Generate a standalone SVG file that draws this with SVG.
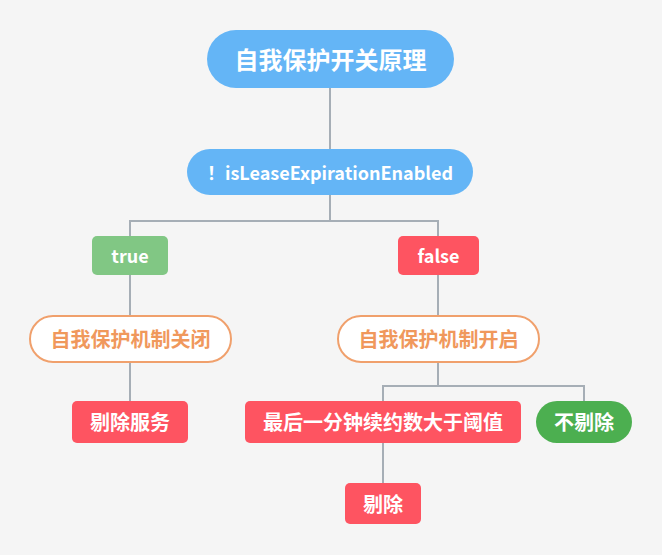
<svg xmlns="http://www.w3.org/2000/svg" width="662" height="555" viewBox="0 0 662 555">
<style>
.t{font-family:"Noto Sans CJK SC","Noto Sans",sans-serif;font-weight:bold;text-anchor:middle;dominant-baseline:central}
.w{fill:#ffffff}
.o{fill:#f0985c}
.blue{fill:#64b5f6}
.red{fill:#fe5461}
.lg{fill:#81c784}
.dg{fill:#4caf50}
.ol{fill:#ffffff;stroke:#f0a06c;stroke-width:2}
.c{fill:none;stroke:#a6aeb6;stroke-width:2}
</style>
<rect width="662" height="555" fill="#f5f5f5"/>
<g id="connectors">
<path class="c" d="M330 88V149"/>
<path class="c" d="M330 195V221M130 236V221H438V236"/>
<path class="c" d="M130 275V316"/>
<path class="c" d="M438 275V316"/>
<path class="c" d="M130 362V401"/>
<path class="c" d="M438 362V386M383 401V386H584V401"/>
<path class="c" d="M383 443V483"/>
</g>
<g id="root">
<rect class="blue" x="207" y="30" width="247" height="58" rx="29"/>
<text class="t w" x="330.5" y="58.5" font-size="24">自我保护开关原理</text>
</g>
<g id="cond">
<rect class="blue" x="187" y="149" width="286" height="46" rx="23"/>
<text class="t w" x="330" y="171.5" font-size="18">！isLeaseExpirationEnabled</text>
</g>
<g id="true">
<rect class="lg" x="92" y="236" width="76" height="39" rx="5"/>
<text class="t w" x="130" y="254.5" font-size="18">true</text>
</g>
<g id="false">
<rect class="red" x="398" y="236" width="81" height="39" rx="5"/>
<text class="t w" x="438.5" y="254.5" font-size="18">false</text>
</g>
<g id="off">
<rect class="ol" x="30" y="316" width="201" height="46" rx="23"/>
<text class="t o" x="130.5" y="338.5" font-size="20">自我保护机制关闭</text>
</g>
<g id="on">
<rect class="ol" x="338" y="316" width="201" height="46" rx="23"/>
<text class="t o" x="438.5" y="338.5" font-size="20">自我保护机制开启</text>
</g>
<g id="evict-service">
<rect class="red" x="72" y="401" width="116" height="42" rx="5"/>
<text class="t w" x="130" y="421.5" font-size="20">剔除服务</text>
</g>
<g id="threshold">
<rect class="red" x="245" y="401" width="276" height="42" rx="5"/>
<text class="t w" x="383" y="421.5" font-size="20" textLength="240" lengthAdjust="spacing">最后一分钟续约数大于阈值</text>
</g>
<g id="no-evict">
<rect class="dg" x="536" y="401" width="96" height="42" rx="21"/>
<text class="t w" x="584" y="421.5" font-size="20">不剔除</text>
</g>
<g id="evict">
<rect class="red" x="345" y="483" width="76" height="41" rx="5"/>
<text class="t w" x="383" y="503" font-size="20">剔除</text>
</g>
</svg>
